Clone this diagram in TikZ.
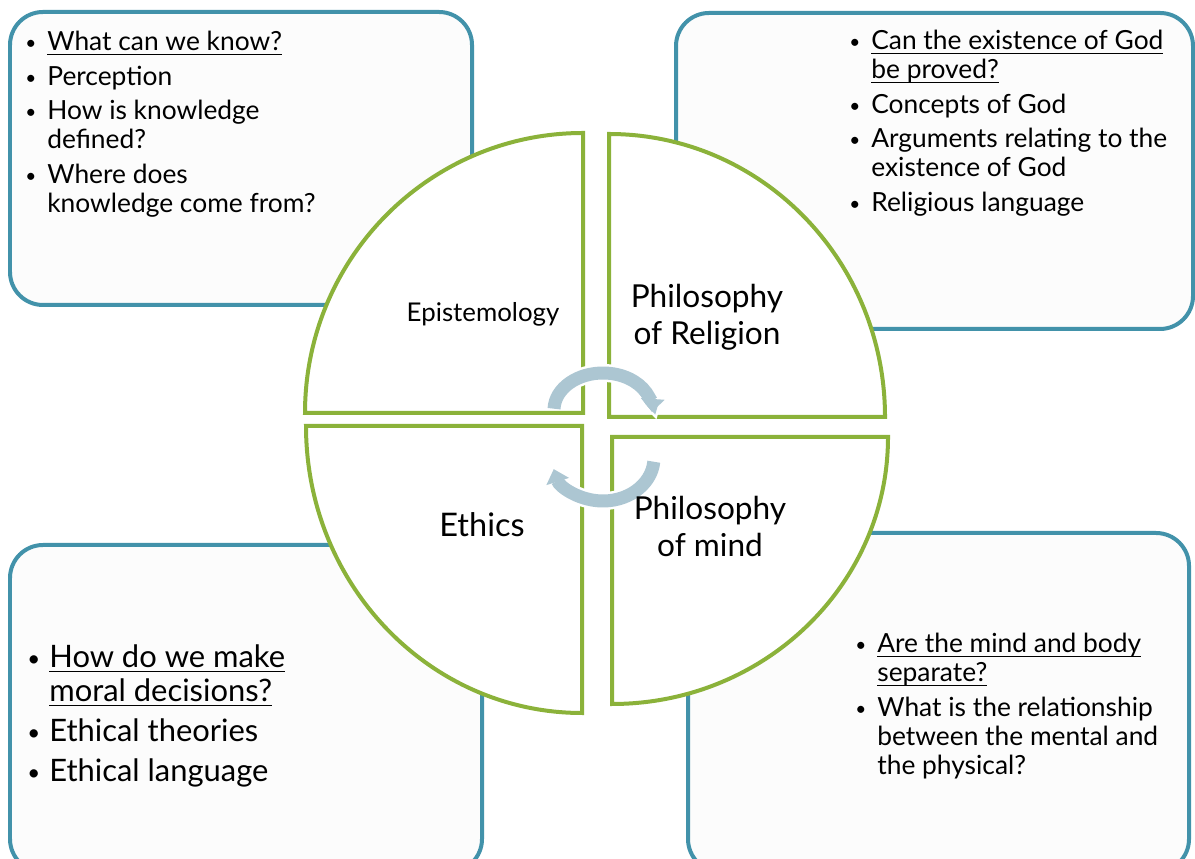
\documentclass[tikz,border=0pt]{standalone}
\usepackage{fontspec}
\usepackage{graphicx}
\setmainfont{Lato}
\usetikzlibrary{arrows.meta}

\definecolor{boxline}{RGB}{66,146,170}
\definecolor{boxfill}{RGB}{252,252,252}
\definecolor{quadline}{RGB}{139,178,58}
\definecolor{cyclearrow}{RGB}{172,198,210}
\newcommand{\bul}{\makebox[0.44cm][l]{\raisebox{0.6pt}{\scalebox{0.72}{\textbullet}}}}
\newsavebox{\ulinebox}
\newcommand{\uln}[1]{\sbox{\ulinebox}{#1}\rlap{\rule[-2.4pt]{\wd\ulinebox}{0.6pt}}\usebox{\ulinebox}}

\begin{document}
\begin{tikzpicture}[x=0.02cm, y=0.02cm,
	topicbox/.style={draw=boxline, fill=boxfill, line width=0.08cm, rounded corners=0.66cm},
	quadrant/.style={draw=quadline, fill=white, line width=0.08cm, line join=miter},
	cycle arrow/.style={draw=cyclearrow, line width=0.26cm, -{Triangle[width=0.46cm, length=0.26cm]},
		preaction={draw=white, line width=0.36cm}},
	qlabel/.style={inner sep=0, anchor=base},
	topics/.style={inner sep=0, anchor=base west, font=\fontsize{15}{16.5}\selectfont}]
	\useasboundingbox (0,0) rectangle (1195,858);
	\def\gap{0.11cm}

	\draw[topicbox] (10,553) rectangle (472,846);
	\draw[topicbox] (676,529) rectangle (1193,845);
	\draw[topicbox] (10,-14) rectangle (482,313);
	\draw[topicbox] (688,-14) rectangle (1189,325);

	\draw[quadrant] (583,445) -- (305,445) arc[start angle=180, end angle=90, x radius=278, y radius=280] -- cycle;
	\draw[quadrant] (609,441) -- (609,724) arc[start angle=90, end angle=0, x radius=276, y radius=283] -- cycle;
	\draw[quadrant] (582,432) -- (306,432) arc[start angle=180, end angle=270, x radius=276, y radius=287] -- cycle;
	\draw[quadrant] (612,421) -- (888,421) arc[start angle=0, end angle=-90, x radius=276, y radius=267] -- cycle;

	\coordinate (hub top) at (603,448);
	\coordinate (hub bottom) at (603,400);
	\draw[cycle arrow] (hub top) ++(178:49 and 37) arc[start angle=178, end angle=-3, x radius=49, y radius=37];
	\draw[cycle arrow] (hub bottom) ++(-5:51 and 43) arc[start angle=-5, end angle=-165, x radius=51, y radius=43];

	\node[qlabel, font=\fontsize{14.7}{16}\selectfont] (epistemology) at (483,536) {Epistemology};
	\node[qlabel, font=\fontsize{18}{21}\selectfont] (religion) at (707,550)
		{\begin{tabular}[t]{@{}c@{}}Philosophy\\of Religion\end{tabular}};
	\node[qlabel, font=\fontsize{18.5}{21}\selectfont] (ethics) at (482,321) {Ethics};
	\node[qlabel, font=\fontsize{18}{21}\selectfont] (mind) at (710,338)
		{\begin{tabular}[t]{@{}c@{}}Philosophy\\of mind\end{tabular}};

	\node[topics] (knowing) at (25,807) {\begin{tabular}[t]{@{}l@{}l@{}}
		\bul & \uln{What can we know?}\\[\gap]
		\bul & Perception\\[\gap]
		\bul & How is knowledge\\
		     & defined?\\[\gap]
		\bul & Where does\\
		     & knowledge come from?
	\end{tabular}};
	\node[topics] (god) at (849,808) {\begin{tabular}[t]{@{}l@{}l@{}}
		\bul & \uln{Can the existence of God}\\
		     & \uln{be proved?}\\[\gap]
		\bul & Concepts of God\\[\gap]
		\bul & Arguments relating to the\\
		     & existence of God\\[\gap]
		\bul & Religious language
	\end{tabular}};
	\node[topics, font=\fontsize{17.6}{19.3}\selectfont] (morals) at (27,190) {\begin{tabular}[t]{@{}l@{}l@{}}
		\bul & \uln{How do we make}\\
		     & \uln{moral decisions?}\\[0.12cm]
		\bul & Ethical theories\\[0.12cm]
		\bul & Ethical language
	\end{tabular}};
	\node[topics] (dualism) at (855,205) {\begin{tabular}[t]{@{}l@{}l@{}}
		\bul & \uln{Are the mind and body}\\
		     & \uln{separate?}\\[\gap]
		\bul & What is the relationship\\
		     & between the mental and\\
		     & the physical?
	\end{tabular}};
\end{tikzpicture}
\end{document}
